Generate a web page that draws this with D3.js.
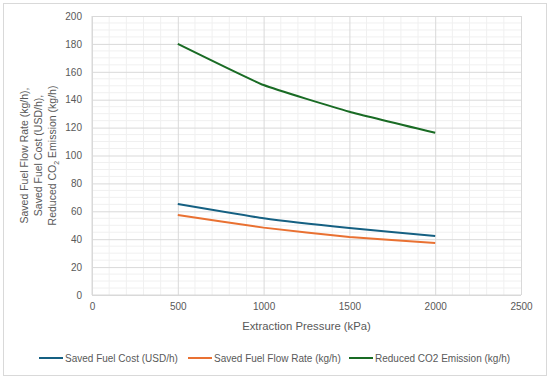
<!DOCTYPE html>
<html>
<head>
<meta charset="utf-8">
<script src="https://cdn.jsdelivr.net/npm/d3@7"></script>
<style>
  body { margin: 0; background: #fff; }
  text { font-family: "Liberation Sans", Arial, sans-serif; fill: #595959; }
</style>
</head>
<body>
<div id="chart"></div>
<script>
/* Data */
const pressure = [500, 1000, 1500, 2000];
const fuelCost = [65.2, 55.0, 48.0, 42.3];
const fuelFlow = [57.3, 48.3, 41.6, 37.3];
const co2Emission = [180, 150.5, 131.4, 116.3];
const xTicks = [0, 500, 1000, 1500, 2000, 2500];
const yTicks = [0, 20, 40, 60, 80, 100, 120, 140, 160, 180, 200];

const series = [
    { name: "Saved Fuel Cost (USD/h)", values: fuelCost, color: "#156082" },
    { name: "Saved Fuel Flow Rate (kg/h)", values: fuelFlow, color: "#E97132" },
    { name: "Reduced CO2 Emission (kg/h)", values: co2Emission, color: "#196B24" }
];

/* Layout */
const W = 550, H = 379;
const margin = { left: 92, top: 16, right: 29, bottom: 84 };
const plotW = W - margin.left - margin.right;
const plotH = H - margin.top - margin.bottom;

const svg = d3.select("#chart").append("svg")
    .attr("width", W)
    .attr("height", H);

// chart border
svg.append("rect")
    .attr("x", 3.5).attr("y", 3.5)
    .attr("width", 543).attr("height", 372)
    .attr("fill", "#fff")
    .attr("stroke", "#d9d9d9");

const x = d3.scaleLinear().domain([0, 2500]).range([0, plotW]);
const y = d3.scaleLinear().domain([0, 200]).range([plotH, 0]);

const g = svg.append("g")
    .attr("transform", "translate(" + margin.left + "," + margin.top + ")");

/* Minor gridlines */
g.append("g").selectAll("line")
    .data(d3.range(0, 2501, 100).filter(v => v % 500 != 0))
    .enter().append("line")
    .attr("x1", d => x(d)).attr("x2", d => x(d))
    .attr("y1", 0).attr("y2", plotH)
    .attr("stroke", "#f0f0f0");
g.append("g").selectAll("line")
    .data(d3.range(0, 201, 5).filter(v => v % 20 != 0))
    .enter().append("line")
    .attr("x1", 0).attr("x2", plotW)
    .attr("y1", d => y(d)).attr("y2", d => y(d))
    .attr("stroke", "#f0f0f0");

/* Major gridlines via axes */
const xAxis = g.append("g")
    .attr("transform", "translate(0," + plotH + ")")
    .call(d3.axisBottom(x).tickValues(xTicks).tickFormat(d3.format("d")).tickSize(-plotH).tickPadding(8));
const yAxis = g.append("g")
    .call(d3.axisLeft(y).tickValues(yTicks).tickFormat(d3.format("d")).tickSize(-plotW).tickPadding(10));

[xAxis, yAxis].forEach(a => {
    a.select(".domain").remove();
    a.selectAll(".tick line").attr("stroke", "#d9d9d9");
    a.selectAll(".tick text")
        .style("font-size", "10px")
        .attr("fill", "#595959");
});

// left axis line and bottom axis line
g.append("line").attr("x1", 0).attr("x2", 0).attr("y1", 0).attr("y2", plotH)
    .attr("stroke", "#d9d9d9");
g.append("line").attr("x1", 0).attr("x2", plotW).attr("y1", plotH).attr("y2", plotH)
    .attr("stroke", "#d9d9d9");

/* Lines (lightly smoothed) */
const line = d3.line()
    .x((d, i) => x(pressure[i]))
    .y(d => y(d))
    .curve(d3.curveCardinal.tension(0.6));

g.selectAll("path.series")
    .data(series)
    .enter().append("path")
    .attr("class", "series")
    .attr("fill", "none")
    .attr("stroke", d => d.color)
    .attr("stroke-width", 2)
    .attr("d", d => line(d.values));

/* Axis titles */
svg.append("text")
    .attr("x", margin.left + plotW / 2)
    .attr("y", 330)
    .attr("text-anchor", "middle")
    .style("font-size", "11.3px")
    .text("Extraction Pressure (kPa)");

const yTitle = svg.append("text")
    .attr("transform", "translate(0," + (margin.top + plotH / 2) + ") rotate(-90)")
    .attr("text-anchor", "middle")
    .style("font-size", "10.5px");
yTitle.append("tspan").attr("x", 0).attr("y", 27.5).text("Saved Fuel Flow Rate (kg/h),");
yTitle.append("tspan").attr("x", 0).attr("y", 41.5).text("Saved Fuel Cost (USD/h),");
const t3 = yTitle.append("tspan").attr("x", 0).attr("y", 56);
t3.append("tspan").text("Reduced CO");
t3.append("tspan").attr("dy", 2.5).style("font-size", "7px").text("2");
t3.append("tspan").attr("dy", -2.5).text(" Emission (kg/h)");

/* Legend */
const legendX = [39, 188, 349];
const legend = svg.selectAll("g.legend")
    .data(series)
    .enter().append("g")
    .attr("class", "legend")
    .attr("transform", (d, i) => "translate(" + legendX[i] + ",358)");
legend.append("line")
    .attr("x1", 0).attr("x2", 24)
    .attr("stroke", d => d.color)
    .attr("stroke-width", 2);
legend.append("text")
    .attr("x", 26)
    .attr("dy", "0.35em")
    .style("font-size", "10px")
    .text(d => d.name);
</script>
</body>
</html>
